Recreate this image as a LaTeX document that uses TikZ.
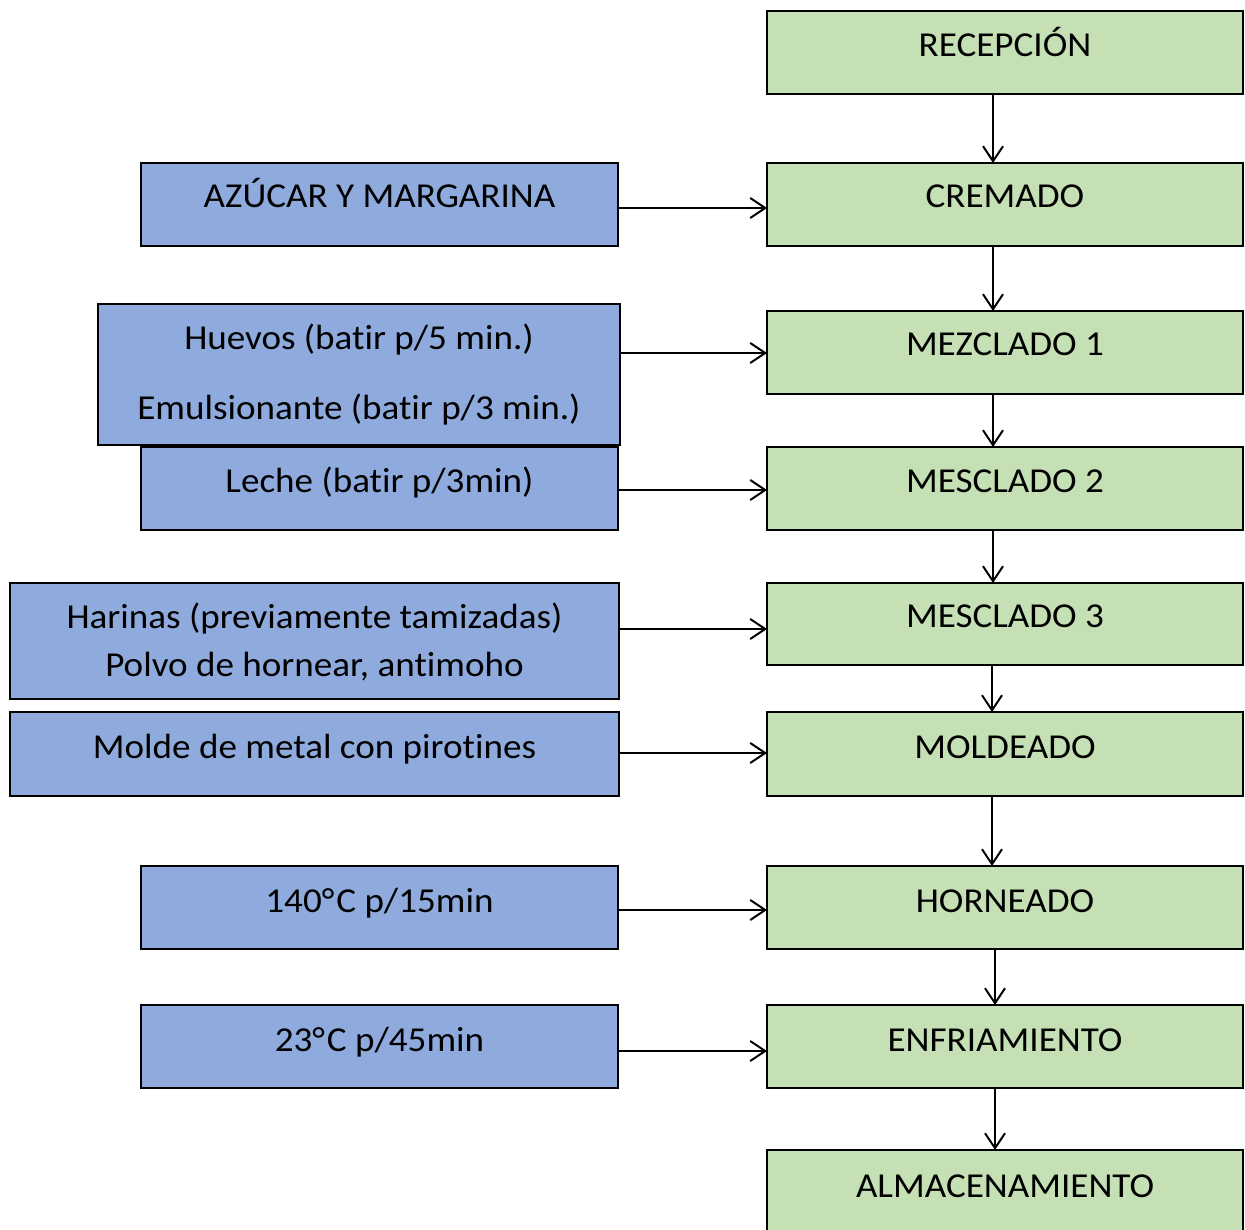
\documentclass[tikz,border=0pt]{standalone}
\usepackage{fontspec}
\setmainfont{Carlito}[FakeStretch=1.06,Ligatures=NoCommon]
\usetikzlibrary{arrows.meta}
\definecolor{gfill}{HTML}{C5E0B4}
\definecolor{bfill}{HTML}{8FAADC}
\begin{document}
\begin{tikzpicture}[x=1pt,y=-1pt,
  gbox/.style={draw=black,line width=2.5pt,fill=gfill,rectangle,inner sep=0pt,outer sep=0pt},
  bbox/.style={draw=black,line width=2.5pt,fill=bfill,rectangle,inner sep=0pt,outer sep=0pt},
  txt/.style={anchor=base,inner sep=0pt,font=\fontsize{35}{42}\selectfont},
  arr/.style={line width=2pt,-{Straight Barb[length=15pt,width=20pt,line width=2pt]}}]
\useasboundingbox (0,0) rectangle (1245,1230);
\clip (0,0) rectangle (1245,1230);
% green boxes
\node[gbox,minimum width=476pt,minimum height=83pt] (rec) at (1005,52.5) {};
\node[gbox,minimum width=476pt,minimum height=83pt] (cre) at (1005,204.5) {};
\node[gbox,minimum width=476pt,minimum height=83pt] (mz1) at (1005,352.5) {};
\node[gbox,minimum width=476pt,minimum height=83pt] (mz2) at (1005,488.5) {};
\node[gbox,minimum width=476pt,minimum height=82pt] (mz3) at (1005,624) {};
\node[gbox,minimum width=476pt,minimum height=84pt] (mol) at (1005,754) {};
\node[gbox,minimum width=476pt,minimum height=83pt] (hor) at (1005,907.5) {};
\node[gbox,minimum width=476pt,minimum height=83pt] (enf) at (1005,1046.5) {};
\node[gbox,minimum width=476pt,minimum height=100pt] (alm) at (1005,1200) {};
\node[txt] (trec) at (1005,57) {RECEPCIÓN};
\node[txt] (tcre) at (1005,208) {CREMADO};
\node[txt] (tmz1) at (1005,356) {MEZCLADO 1};
\node[txt] (tmz2) at (1005,492) {MESCLADO 2};
\node[txt] (tmz3) at (1005,627) {MESCLADO 3};
\node[txt] (tmol) at (1005,758) {MOLDEADO};
\node[txt] (thor) at (1005,912) {HORNEADO};
\node[txt] (tenf) at (1005,1051) {ENFRIAMIENTO};
\node[txt] (talm) at (1005,1197) {ALMACENAMIENTO};
% blue boxes
\node[bbox,minimum width=477pt,minimum height=83pt] (azu) at (379.5,204.5) {};
\node[bbox,minimum width=522pt,minimum height=141pt] (hue) at (359,374.5) {};
\node[bbox,minimum width=477pt,minimum height=83pt] (lec) at (379.5,488.5) {};
\node[bbox,minimum width=609pt,minimum height=116pt] (har) at (314.5,641) {};
\node[bbox,minimum width=609pt,minimum height=84pt] (mde) at (314.5,754) {};
\node[bbox,minimum width=477pt,minimum height=83pt] (t140) at (379.5,907.5) {};
\node[bbox,minimum width=477pt,minimum height=83pt] (t23) at (379.5,1046.5) {};
\node[txt] (tazu) at (379.5,208) {AZÚCAR Y MARGARINA};
\node[txt] (thue) at (359,350) {Huevos (batir p/5 min.)};
\node[txt] (temu) at (359,420) {Emulsionante (batir p/3 min.)};
\node[txt] (tlec) at (379.5,492) {Leche (batir p/3min)};
\node[txt] (thar) at (314.5,628) {Harinas (previamente tamizadas)};
\node[txt] (tpol) at (314.5,676) {Polvo de hornear, antimoho};
\node[txt] (tmde) at (314.5,758) {Molde de metal con pirotines};
\node[txt] (tt140) at (379.5,912) {140°\kern2ptC p/15min};
\node[txt] (tt23) at (379.5,1051) {23°\kern2ptC p/45min};
% vertical arrows
\draw[arr] (rec.south -| 993,0) -- (cre.north -| 993,0);
\draw[arr] (cre.south -| 993,0) -- (mz1.north -| 993,0);
\draw[arr] (mz1.south -| 993,0) -- (mz2.north -| 993,0);
\draw[arr] (mz2.south -| 993,0) -- (mz3.north -| 993,0);
\draw[arr] (mz3.south -| 992,0) -- (mol.north -| 992,0);
\draw[arr] (mol.south -| 992,0) -- (hor.north -| 992,0);
\draw[arr] (hor.south -| 995,0) -- (enf.north -| 995,0);
\draw[arr] (enf.south -| 995,0) -- (alm.north -| 995,0);
% horizontal arrows
\draw[arr] (azu.east |- 0,208) -- (cre.west |- 0,208);
\draw[arr] (hue.east |- 0,353) -- (mz1.west |- 0,353);
\draw[arr] (lec.east |- 0,490) -- (mz2.west |- 0,490);
\draw[arr] (har.east |- 0,629) -- (mz3.west |- 0,629);
\draw[arr] (mde.east |- 0,753) -- (mol.west |- 0,753);
\draw[arr] (t140.east |- 0,910) -- (hor.west |- 0,910);
\draw[arr] (t23.east |- 0,1051) -- (enf.west |- 0,1051);
\end{tikzpicture}
\end{document}
